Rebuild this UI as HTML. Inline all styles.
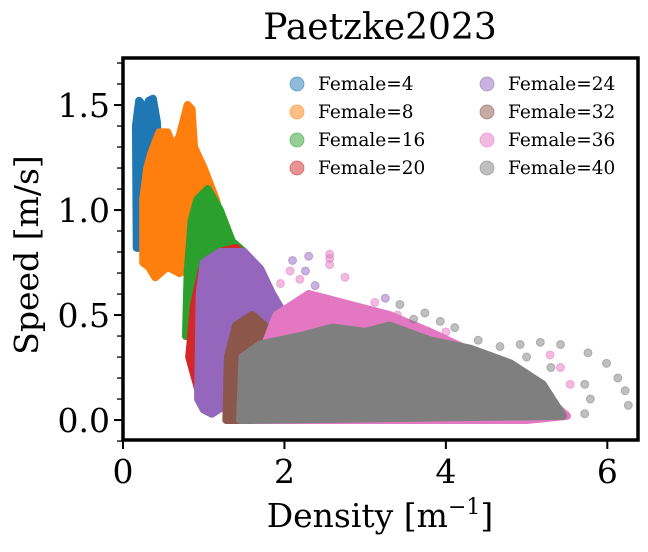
<!DOCTYPE html>
<html><head><meta charset="utf-8">
<style>
body{margin:0;background:#fff;}
svg text{font-family:"DejaVu Serif","Liberation Serif",serif;}
</style></head>
<body>
<svg id="chart" width="648" height="547" viewBox="0 0 648 547" xmlns="http://www.w3.org/2000/svg">
<text x="380" y="39" font-size="36" text-anchor="middle">Paetzke2023</text>
<g id="marks"></g>
<rect x="123" y="58" width="515" height="382" fill="none" stroke="#000" stroke-width="3.5"/>
<g id="axes"></g>
<text transform="translate(38,255) rotate(-90)" font-size="33" text-anchor="middle">Speed [m/s]</text>
<text x="380" y="527" font-size="33" text-anchor="middle">Density [m<tspan font-size="22" dy="-13">−1</tspan><tspan dy="13">]</tspan></text>
<g id="legend"></g>
</svg>
<script>
const seriesNames=["Female=4","Female=8","Female=16","Female=20","Female=24","Female=32","Female=36","Female=40"];
const seriesColors=["#1f77b4","#ff7f0e","#2ca02c","#d62728","#9467bd","#8c564b","#e377c2","#7f7f7f"];
const xTicks=[0,2,4,6];
const yTicks=[0.0,0.5,1.0,1.5];
const hullF4=[[0.17,0.82],[0.16,1.4],[0.2,1.52],[0.24,1.5],[0.27,1.42],[0.32,1.52],[0.37,1.53],[0.42,1.42],[0.45,1.2],[0.42,1.0],[0.44,0.84],[0.36,0.83],[0.30,0.9],[0.25,0.82]];
const hullF8=[[0.25,0.75],[0.25,1.05],[0.3,1.2],[0.35,1.27],[0.45,1.37],[0.55,1.37],[0.62,1.3],[0.7,1.35],[0.8,1.5],[0.85,1.48],[0.88,1.3],[1.0,1.2],[1.15,1.05],[1.25,0.9],[1.3,0.8],[1.1,0.75],[0.8,0.72],[0.7,0.7],[0.55,0.73],[0.4,0.68],[0.32,0.73]];
const hullF16=[[0.78,0.4],[0.8,0.7],[0.85,0.95],[0.92,1.05],[1.05,1.1],[1.2,1.0],[1.35,0.85],[1.5,0.8],[1.4,0.6],[1.2,0.5],[1.0,0.45]];
const hullF20=[[0.82,0.3],[0.88,0.55],[0.98,0.72],[1.2,0.8],[1.4,0.82],[1.6,0.75],[1.75,0.6],[1.6,0.45],[1.3,0.2],[1.1,0.05],[0.95,0.12]];
const hullF24=[[0.93,0.1],[0.95,0.6],[1.0,0.75],[1.2,0.8],[1.5,0.8],[1.7,0.72],[1.85,0.6],[2.0,0.5],[1.8,0.35],[1.6,0.2],[1.3,0.08],[1.1,0.03],[1.0,0.05]];
const hullF32=[[1.28,0.0],[1.3,0.3],[1.4,0.45],[1.6,0.5],[1.75,0.45],[1.8,0.0]];
const hullF36=[[1.6,0.0],[1.7,0.3],[1.9,0.5],[2.3,0.6],[2.8,0.55],[3.3,0.5],[3.8,0.42],[4.3,0.33],[4.8,0.22],[5.2,0.12],[5.5,0.02],[5.0,0.0]];
const hullF40=[[1.45,0.0],[1.48,0.3],[1.7,0.36],[2.2,0.4],[2.6,0.44],[3.0,0.42],[3.3,0.45],[3.8,0.38],[4.3,0.34],[4.8,0.27],[5.2,0.17],[5.45,0.02]];
const ptsF24=[[2.26,0.71],[2.38,0.64],[2.5,0.57],[2.19,0.57],[3.25,0.58],[2.1,0.76],[2.3,0.78],[3.0,0.52],[3.6,0.45]];
const ptsF36=[[5.42,0.25],[5.54,0.17],[5.29,0.31],[2.56,0.79],[2.56,0.74],[2.07,0.71],[2.19,0.67],[2.75,0.68],[3.12,0.56],[1.95,0.65],[2.56,0.77],[3.4,0.5],[4.0,0.42]];
const ptsF40=[[5.76,0.32],[5.99,0.27],[6.13,0.2],[6.22,0.14],[6.26,0.07],[5.42,0.36],[5.17,0.37],[4.92,0.36],[4.67,0.35],[5.72,0.17],[5.79,0.1],[5.72,0.03],[4.11,0.44],[3.93,0.47],[3.74,0.51],[3.43,0.55],[4.4,0.38],[5.0,0.3],[5.3,0.25],[3.6,0.48]];

const X0=123,X1=638,xmin=0,xmax=6.38,Y0=440,Y1=58,ymin=-0.095,ymax=1.724;
function sx(v){return X0+(v-xmin)/(xmax-xmin)*(X1-X0);}
function sy(v){return Y0-(v-ymin)/(ymax-ymin)*(Y0-Y1);}
const NS="http://www.w3.org/2000/svg";
function mk(t,a,p){const e=document.createElementNS(NS,t);for(const k in a)e.setAttribute(k,a[k]);p.appendChild(e);return e;}
const marks=document.getElementById('marks');
const hulls=[hullF4,hullF8,hullF16,hullF20,hullF24,hullF32,hullF36,hullF40];
const extras=[[],[],[],[],ptsF24,[],ptsF36,ptsF40];
hulls.forEach((h,i)=>{
  const c=seriesColors[i];
  const poly=mk('polygon',{points:h.map(p=>sx(p[0])+','+sy(p[1])).join(' '),fill:c,stroke:c,'stroke-width':8,'stroke-linejoin':'round'},marks);
  
  
  extras[i].forEach(p=>{
    const pt=mk('circle',{cx:sx(p[0]),cy:sy(p[1]),r:4,fill:c,'fill-opacity':0.5,stroke:c,'stroke-opacity':0.5},marks);
    
    
  });
});
const axes=document.getElementById('axes');
xTicks.forEach(v=>{
  const l=mk('line',{x1:sx(v),x2:sx(v),y1:441,y2:449,stroke:'#000','stroke-width':2},axes);
  
  
  const t=mk('text',{x:sx(v),y:483,'font-size':33,'text-anchor':'middle'},axes);t.textContent=v;
  
  
});
for(let k=-1;k<=17;k++){const v=k/10;
  const major=k%5===0;
  const l=mk('line',{x1:major?114:117,x2:122,y1:sy(v),y2:sy(v),stroke:'#000','stroke-width':major?2:1.3},axes);
  
  
}
yTicks.forEach(v=>{
  const t=mk('text',{x:110,y:sy(v)+12,'font-size':33,'text-anchor':'end'},axes);t.textContent=v.toFixed(1);
  
  
});
const lg=document.getElementById('legend');
seriesNames.forEach((n,i)=>{
  const col=Math.floor(i/4),row=i%4;
  const x=297+col*190,y=84+row*28;
  const c=mk('circle',{cx:x,cy:y,r:7,fill:seriesColors[i],'fill-opacity':0.5,stroke:seriesColors[i],'stroke-opacity':0.5},lg);
  
  
  const t=mk('text',{x:x+21,y:y+6,'font-size':18.5},lg);t.textContent=n;
  
  
});
</script>
</body></html>
